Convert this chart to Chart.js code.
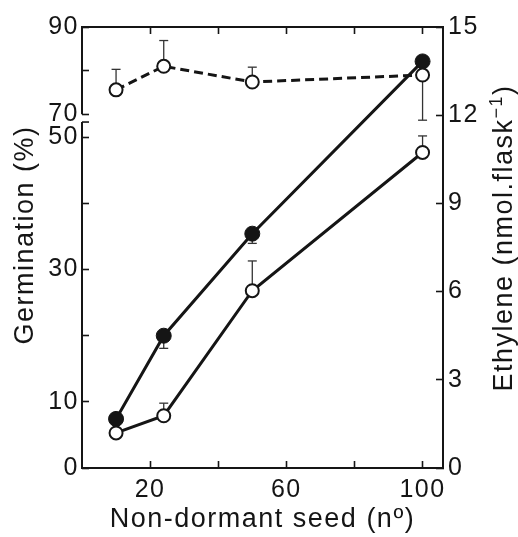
<!DOCTYPE html>
<html>
<head>
<meta charset="utf-8">
<script src="https://cdn.jsdelivr.net/npm/chart.js@4/dist/chart.umd.min.js"></script>
<style>
  html, body { margin: 0; padding: 0; background: #fff; }
  #wrap { width: 518px; height: 537px; }
</style>
</head>
<body>
<div id="wrap"><canvas id="chart" width="518" height="537"></canvas></div>
<script>
// values
const seeds = [10, 24, 50, 100];
const germNonDormant = [75.6, 81.0, 77.4, 79.0];
const germNonDormantErrUp = [4.7, 5.9, 3.4, 0];
const germDormant = [5.3, 7.9, 26.8, 47.7];
const germDormantErrUp = [0, 1.9, 4.5, 2.5];
const ethylene = [1.67, 4.5, 7.97, 13.83];
const ethyleneErrDown = [0, 0.43, 0.33, 2.0];

const xTicks = [20, 40, 60, 80, 100];
const xLabels = [20, 60, 100];
const germTicks = [0, 10, 20, 30, 40, 50, 70, 80, 90];
const germLabels = [0, 10, 30, 50, 70, 90];
const ethTicks = [0, 3, 6, 9, 12, 15];

const INK = '#151515';
const FONT = 'Liberation Sans';

// germination axis is broken between 50 and 70
class BrokenScale extends Chart.LinearScale {
  getPixelForValue(v) {
    const h = this.bottom - this.top;
    const f = v < 60 ? v / 50 * 0.75 : 0.802 + (v - 70) / 20 * 0.198;
    return this.bottom - f * h;
  }
}
BrokenScale.id = 'broken';
BrokenScale.defaults = Chart.LinearScale.defaults;
Chart.register(BrokenScale);

const tickFont = { family: FONT, size: 25 };
const titleFont = { family: FONT, size: 27 };
const gridOpts = { drawOnChartArea: false, drawTicks: true, tickLength: -7, tickWidth: 1.6, tickColor: INK };

const pts = (ys) => seeds.map((x, i) => ({ x, y: ys[i] }));

function line(ctx, x1, y1, x2, y2) {
  ctx.beginPath();
  ctx.moveTo(x1, y1);
  ctx.lineTo(x2, y2);
  ctx.stroke();
}

// rotated title reading bottom to top, baseline at x
function sideTitle(ctx, x, y, main, sup, tail) {
  ctx.save();
  ctx.fillStyle = INK;
  ctx.letterSpacing = '1.5px';
  ctx.textBaseline = 'alphabetic';
  ctx.textAlign = 'left';
  ctx.translate(x, y);
  ctx.rotate(-Math.PI / 2);
  ctx.font = `27px "${FONT}"`;
  const w1 = ctx.measureText(main).width;
  const w3 = tail ? ctx.measureText(tail).width : 0;
  ctx.font = `18px "${FONT}"`;
  const w2 = sup ? ctx.measureText(sup).width : 0;
  let pos = -(w1 + w2 + w3) / 2;
  ctx.font = `27px "${FONT}"`;
  ctx.fillText(main, pos, 0);
  pos += w1;
  if (sup) {
    ctx.font = `18px "${FONT}"`;
    ctx.fillText(sup, pos, -10);
    pos += w2;
  }
  if (tail) {
    ctx.font = `27px "${FONT}"`;
    ctx.fillText(tail, pos, 0);
  }
  ctx.restore();
}

const extras = {
  id: 'extras',
  beforeDraw(chart) {
    chart.ctx.letterSpacing = '1.5px';
  },
  beforeDatasetsDraw(chart) {
    const { ctx, scales } = chart;
    const xs = scales.x;
    ctx.save();
    ctx.strokeStyle = '#333';
    ctx.lineWidth = 1.3;
    const bars = (vals, ups, downs, ys) => {
      vals.forEach((v, i) => {
        const px = xs.getPixelForValue(seeds[i]);
        const py = ys.getPixelForValue(v);
        [[ups, 1], [downs, -1]].forEach(([errs, sign]) => {
          if (!errs || !errs[i]) return;
          const ey = ys.getPixelForValue(v + sign * errs[i]);
          line(ctx, px, py, px, ey);
          line(ctx, px - 4.5, ey, px + 4.5, ey);
        });
      });
    };
    bars(germNonDormant, germNonDormantErrUp, null, scales.yL);
    bars(germDormant, germDormantErrUp, null, scales.yL);
    bars(ethylene, null, ethyleneErrDown, scales.yR);
    ctx.restore();
  },
  afterDraw(chart) {
    const { ctx, scales, chartArea } = chart;
    const yL = scales.yL;
    const x = chartArea.left;
    ctx.save();
    ctx.strokeStyle = INK;
    ctx.lineWidth = 2;
    // upper and lower pieces of the broken left axis
    line(ctx, x, yL.getPixelForValue(90), x, yL.getPixelForValue(70));
    const yb = yL.getPixelForValue(52.3);
    line(ctx, x, yb, x, yL.getPixelForValue(0) + 1);
    ctx.lineWidth = 1.6;
    line(ctx, x, yb, x + 7, yb);
    ctx.restore();

    sideTitle(ctx, 33, 235, 'Germination (%)');
    sideTitle(ctx, 512, 238, 'Ethylene (nmol.flask', '−1', ')');
  }
};

new Chart(document.getElementById('chart'), {
  type: 'line',
  data: {
    datasets: [
      {
        label: 'Germination (non-dormant)',
        data: pts(germNonDormant),
        yAxisID: 'yL',
        borderColor: INK,
        borderWidth: 3,
        borderDash: [9, 5],
        pointRadius: 6.5,
        pointBorderWidth: 2,
        pointBackgroundColor: '#fff',
        pointBorderColor: INK,
      },
      {
        label: 'Germination',
        data: pts(germDormant),
        yAxisID: 'yL',
        borderColor: INK,
        borderWidth: 3,
        pointRadius: 6.5,
        pointBorderWidth: 2,
        pointBackgroundColor: '#fff',
        pointBorderColor: INK,
      },
      {
        label: 'Ethylene',
        data: pts(ethylene),
        yAxisID: 'yR',
        borderColor: INK,
        borderWidth: 3,
        pointRadius: 7.5,
        pointBorderWidth: 1,
        pointBackgroundColor: INK,
        pointBorderColor: INK,
      },
    ],
  },
  options: {
    responsive: false,
    animation: false,
    devicePixelRatio: 1,
    layout: { padding: { top: 18, left: 0, right: 0, bottom: 0 } },
    plugins: { legend: { display: false }, tooltip: { enabled: false } },
    scales: {
      x: {
        type: 'linear',
        position: 'bottom',
        min: 0,
        max: 106,
        afterBuildTicks: (s) => { s.ticks = xTicks.map((value) => ({ value })); },
        afterFit: (s) => { s.height = 69; },
        ticks: {
          autoSkip: false,
          maxRotation: 0,
          padding: 14,
          font: tickFont,
          color: INK,
          callback: (v) => (xLabels.includes(v) ? String(v) : ''),
        },
        grid: gridOpts,
        border: { display: true, color: INK, width: 2 },
        title: {
          display: true,
          text: 'Non-dormant seed (nº)',
          font: titleFont,
          color: INK,
          padding: { top: 0, bottom: 1 },
        },
      },
      xTop: {
        type: 'linear',
        position: 'top',
        min: 0,
        max: 106,
        afterBuildTicks: (s) => { s.ticks = xTicks.map((value) => ({ value })); },
        afterFit: (s) => { s.height = 0; },
        ticks: { display: false },
        grid: gridOpts,
        border: { display: true, color: INK, width: 2 },
      },
      yL: {
        type: 'broken',
        position: 'left',
        min: 0,
        max: 90,
        afterBuildTicks: (s) => { s.ticks = germTicks.map((value) => ({ value })); },
        afterFit: (s) => { s.width = 82; },
        ticks: {
          autoSkip: false,
          padding: 10,
          font: tickFont,
          color: INK,
          callback: (v) => (germLabels.includes(v) ? String(v) : ''),
        },
        grid: gridOpts,
        border: { display: false },
      },
      yR: {
        type: 'linear',
        position: 'right',
        min: 0,
        max: 15,
        afterBuildTicks: (s) => { s.ticks = ethTicks.map((value) => ({ value })); },
        afterFit: (s) => { s.width = 75; },
        ticks: {
          autoSkip: false,
          padding: 12,
          font: tickFont,
          color: INK,
        },
        grid: gridOpts,
        border: { display: true, color: INK, width: 2 },
      },
    },
  },
  plugins: [extras],
});
</script>
</body>
</html>
